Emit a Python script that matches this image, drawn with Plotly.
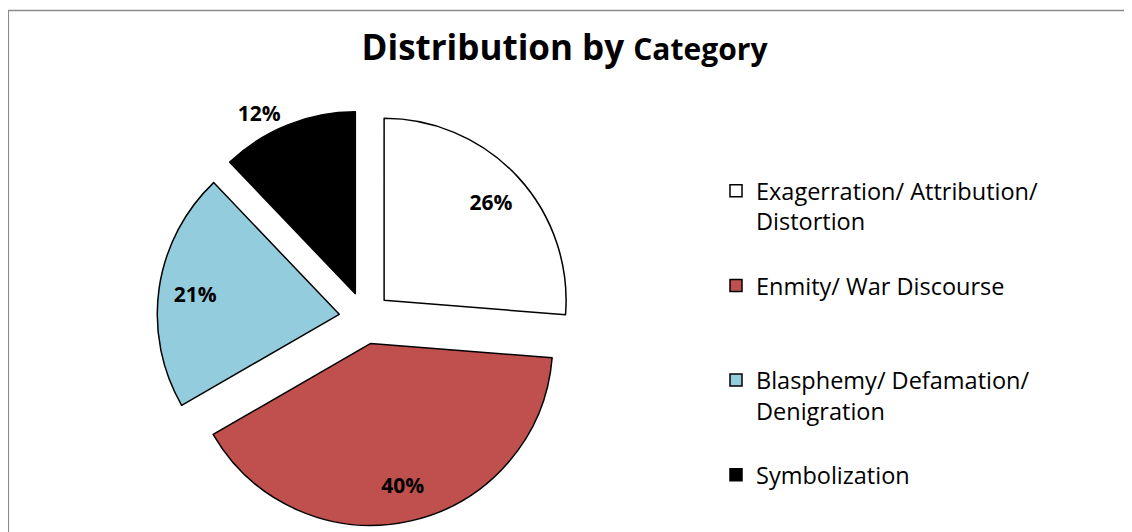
import plotly.graph_objects as go

categories = ["Exagerration/ Attribution/<br>Distortion", "Enmity/ War Discourse",
              "Blasphemy/ Defamation/<br>Denigration", "Symbolization"]
values = [26, 40, 21, 12]
colors = ["#FFFFFF", "#C0504D", "#93CDDD", "#000000"]
text_positions = ["inside", "inside", "inside", "outside"]

W, H = 1132, 532
OFF = 8  # page body margin: figure is drawn 8px right/down of the window corner
FONT = "Open Sans"


def px_x(sx):
    return (sx - OFF) / W


def px_y(sy):
    return 1 - (sy - OFF) / H


# pad each legend label to 3 lines so entries are evenly spaced like the original
def pad(label, n=3):
    lines = label.count("<br>") + 1
    return label + "<br>&nbsp;" * (n - lines)


legend_labels = [pad(c) for c in categories]

# pie centre (365,318), radius 182, pull 0.143 -> half box 208
domain = dict(x=[px_x(365 - 208), px_x(365 + 208)], y=[px_y(318 + 208), px_y(318 - 208)])
PULL = 0.143

fig = go.Figure()
fig.add_trace(go.Pie(
    labels=legend_labels, values=values, sort=False,
    direction="clockwise", rotation=0, pull=PULL,
    marker=dict(colors=colors, line=dict(color="#000000", width=1.5)),
    textinfo="none", hoverinfo="label+percent",
    domain=domain,
))
# transparent ring carrying the percentage labels further out in each slice
fig.add_trace(go.Pie(
    labels=legend_labels, values=values, sort=False,
    direction="clockwise", rotation=0, pull=PULL, hole=0.6,
    marker=dict(colors=["rgba(0,0,0,0)"] * len(values), line=dict(width=0)),
    texttemplate="<b>%{value}%</b>",
    textposition=text_positions,
    insidetextorientation="horizontal",
    textfont=dict(family=FONT, size=21, color="#000000"),
    hoverinfo="skip", showlegend=False,
    domain=domain,
))

fig.update_layout(
    width=W, height=H,
    margin=dict(l=0, r=0, t=0, b=0, autoexpand=False),
    paper_bgcolor="#FFFFFF",
    font=dict(family=FONT, color="#000000"),
    title=dict(
        text="<b>Distribution by <span style='font-size:30px'>Category</span></b>",
        x=px_x(564.5), xanchor="center", y=px_y(48), yanchor="middle",
        font=dict(family=FONT, size=35, color="#000000"),
    ),
    legend=dict(
        x=px_x(716), xanchor="left", y=px_y(169), yanchor="top",
        font=dict(family=FONT, size=23.5, color="#000000"),
        valign="top", bgcolor="rgba(0,0,0,0)",
    ),
    shapes=[dict(type="rect", xref="paper", yref="paper",
                 x0=px_x(8.3), x1=1.2, y0=-0.2, y1=px_y(10.5),
                 line=dict(color="#8A8A8A", width=1.5), fillcolor="rgba(0,0,0,0)")],
)

fig.write_html("out.html")
